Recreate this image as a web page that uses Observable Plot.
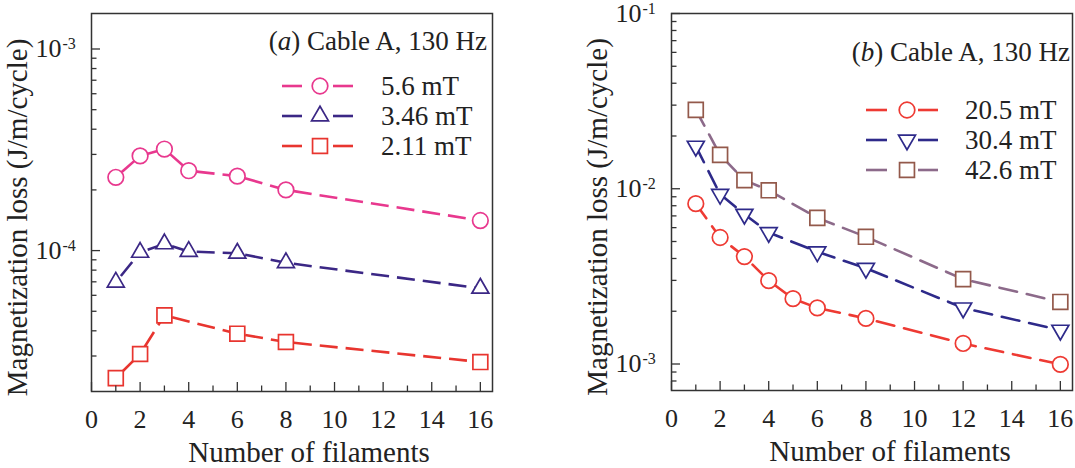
<!DOCTYPE html>
<html><head><meta charset="utf-8">
<script src="https://cdn.jsdelivr.net/npm/d3@7"></script>
<script src="https://cdn.jsdelivr.net/npm/@observablehq/plot@0.6"></script>
<style>
body{margin:0;background:#fff}
#wrap{display:flex;width:1075px;height:468px;overflow:hidden}
</style>
</head><body><div id="wrap"></div>
<script>
// ---------- data: panel (a) ----------
const filamentsA = [1, 2, 3, 4, 6, 8, 16];
const loss56 = [2.31e-4, 2.95e-4, 3.19e-4, 2.49e-4, 2.34e-4, 2.0e-4, 1.41e-4];
const loss346 = [6.97e-5, 9.8e-5, 1.08e-4, 9.9e-5, 9.7e-5, 8.7e-5, 6.5e-5];
const filaments211 = [1, 2, 3, 6, 8, 16];
const loss211 = [2.33e-5, 3.07e-5, 4.77e-5, 3.87e-5, 3.52e-5, 2.80e-5];
// ---------- data: panel (b) ----------
const filamentsB = [1, 2, 3, 4, 6, 8, 12, 16];
const loss426 = [2.82e-2, 1.56e-2, 1.12e-2, 9.8e-3, 6.82e-3, 5.32e-3, 3.05e-3, 2.26e-3];
const loss304 = [1.75e-2, 9.3e-3, 7.16e-3, 5.63e-3, 4.37e-3, 3.52e-3, 2.09e-3, 1.56e-3];
const filaments205 = [1, 2, 3, 4, 5, 6, 8, 12, 16];
const loss205 = [8.22e-3, 5.27e-3, 4.10e-3, 2.99e-3, 2.36e-3, 2.09e-3, 1.82e-3, 1.31e-3, 9.95e-4];
// ---------- tick labels ----------
const xTickLabels = [0, 2, 4, 6, 8, 10, 12, 14, 16];
const yMajorA = [1e-4, 1e-3];
const yMajorB = [1e-3, 1e-2, 1e-1];
const legendA = ["5.6 mT", "3.46 mT", "2.11 mT"];
const legendB = ["20.5 mT", "30.4 mT", "42.6 mT"];

// ---------- symbols ----------
const triUp = {draw(ctx, size) {
  const s = Math.sqrt(size / (Math.sqrt(3) / 4)), h = s * Math.sqrt(3) / 2;
  ctx.moveTo(0, -2 * h / 3); ctx.lineTo(s / 2, h / 3); ctx.lineTo(-s / 2, h / 3); ctx.closePath();
}};
const triDown = {draw(ctx, size) {
  const s = Math.sqrt(size / (Math.sqrt(3) / 4)), h = s * Math.sqrt(3) / 2;
  ctx.moveTo(-s / 2, -h / 3); ctx.lineTo(s / 2, -h / 3); ctx.lineTo(0, 2 * h / 3); ctx.closePath();
}};
const circ = d3.symbolCircle, sq = d3.symbolSquare;
const FONT = "Liberation Serif, Times New Roman, serif";

function minorTicks(lo, hi) {
  const out = [];
  for (let e = Math.floor(Math.log10(lo)); e <= Math.ceil(Math.log10(hi)); e++)
    for (let m = 2; m <= 9; m++) { const v = m * Math.pow(10, e); if (v > lo * 1.0001 && v < hi * 0.9999) out.push(v); }
  return out;
}

function panel(cfg) {
  const W = cfg.width, H = 468;
  const fw = W - cfg.ml - cfg.mr, fh = H - cfg.mt - cfg.mb;
  const marks = [];
  for (const s of cfg.series) {
    const pts = s.x.map((x, i) => ({x, y: s.y[i]}));
    if (cfg.segmented) {
      marks.push(Plot.link(d3.pairs(pts), {
        x1: d => d[0].x, y1: d => d[0].y, x2: d => d[1].x, y2: d => d[1].y,
        stroke: s.color, strokeWidth: 2.6, strokeDasharray: "18,8", strokeDashoffset: 18
      }));
    } else {
      marks.push(Plot.line(pts, {x: "x", y: "y", stroke: s.color, strokeWidth: 2.6, strokeDasharray: "18,10"}));
    }
  }
  for (const s of cfg.series) {
    const pts = s.x.map((x, i) => ({x, y: s.y[i]}));
    marks.push(Plot.dot(pts, {x: "x", y: "y", symbol: s.symbol, r: s.r, stroke: s.marker || s.color, fill: "white", strokeWidth: 1.7}));
  }
  marks.push(
    Plot.frame({stroke: "#333", strokeWidth: 1.5}),
    Plot.tickX(xTickLabels, {x: d => d, insetTop: fh - 9, stroke: "#333", strokeWidth: 1.3}),
    Plot.tickX(d3.range(1, 16, 2), {x: d => d, insetTop: fh - 5.5, stroke: "#333", strokeWidth: 1.3}),
    Plot.tickY(cfg.yMajor.filter(v => v >= cfg.yDomain[0] && v <= cfg.yDomain[1]), {y: d => d, insetRight: fw - 9, stroke: "#333", strokeWidth: 1.3}),
    Plot.tickY(minorTicks(cfg.yDomain[0], cfg.yDomain[1]), {y: d => d, insetRight: fw - 5.5, stroke: "#333", strokeWidth: 1.3}),
    Plot.text(xTickLabels, {x: d => d, frameAnchor: "bottom", dy: 28, text: d => String(d), fontSize: 26, textAnchor: "middle", lineAnchor: "middle", fill: "#222"}),
    Plot.text(cfg.yMajor, {y: d => d, frameAnchor: "left", dx: -30, text: () => "10", textAnchor: "end", fontSize: 26, lineAnchor: "middle", fill: "#222"}),
    Plot.text(cfg.yMajor, {y: d => d, frameAnchor: "left", dx: -29, dy: -5, text: d => String(Math.round(Math.log10(d))), textAnchor: "start", fontSize: 16, lineAnchor: "middle", fill: "#222"}),
    Plot.text([0], {frameAnchor: "bottom", dx: cfg.titleDx, dy: 61, text: () => "Number of filaments", fontSize: 29, textAnchor: "middle", lineAnchor: "middle", fill: "#222"}),
    Plot.text([0], {frameAnchor: "left", dx: cfg.yTitleDx, dy: 15, rotate: -90, text: () => "Magnetization loss (J/m/cycle)", fontSize: 29, textAnchor: "middle", lineAnchor: "middle", fill: "#222"})
  );
  const svg = Plot.plot({
    width: W, height: H,
    marginLeft: cfg.ml, marginRight: cfg.mr, marginTop: cfg.mt, marginBottom: cfg.mb,
    style: {fontFamily: FONT, background: "white", overflow: "visible", color: "#222"},
    x: {domain: [0, 16.5], axis: null, label: null},
    y: {type: "log", domain: cfg.yDomain, axis: null, label: null},
    marks
  });
  const sel = d3.select(svg);
  const an = sel.append("text").attr("x", cfg.annot.x).attr("y", cfg.annot.y).attr("dy", "0.32em")
    .attr("text-anchor", "end").attr("font-size", 27).attr("font-family", FONT).attr("fill", "#222");
  an.append("tspan").text("(");
  an.append("tspan").attr("font-style", "italic").text(cfg.annot.letter);
  an.append("tspan").text(") Cable A, 130 Hz");
  const L = cfg.legend;
  cfg.series.forEach((s, i) => {
    const y = L.y0 + i * L.dy;
    const g = sel.append("g");
    g.append("line").attr("x1", L.l1).attr("x2", L.l2).attr("y1", y).attr("y2", y).attr("stroke", s.color).attr("stroke-width", 2.6);
    g.append("line").attr("x1", L.r1).attr("x2", L.r2).attr("y1", y).attr("y2", y).attr("stroke", s.color).attr("stroke-width", 2.6);
    g.append("path").attr("d", d3.symbol(s.symbol, Math.PI * s.r * s.r)()).attr("transform", `translate(${L.mx},${y})`)
      .attr("fill", "white").attr("stroke", s.marker || s.color).attr("stroke-width", 1.7);
    g.append("text").attr("x", L.tx).attr("y", y).attr("dy", "0.32em").attr("text-anchor", "start").attr("font-size", 27).attr("font-family", FONT).attr("fill", "#222").text(cfg.legendLabels[i]);
  });
  return svg;
}

const wrap = document.getElementById("wrap");
wrap.appendChild(panel({
  width: 537, ml: 91, mr: 45, mt: 13, mb: 77,
  yDomain: [2.0e-5, 1.5e-3], yMajor: yMajorA, segmented: true,
  titleDx: 17, yTitleDx: -74,
  series: [
    {x: filamentsA, y: loss56, color: "#e8388e", symbol: circ, r: 7.8},
    {x: filamentsA, y: loss346, color: "#3b2785", symbol: triUp, r: 6.3},
    {x: filaments211, y: loss211, color: "#e8352f", symbol: sq, r: 8.4}
  ],
  legendLabels: legendA,
  annot: {x: 487, y: 41, letter: "a"},
  legend: {y0: 86, dy: 30, l1: 282, l2: 302, r1: 333, r2: 353, mx: 320, tx: 381}
}));
wrap.appendChild(panel({
  width: 538, ml: 134, mr: 3, mt: 13, mb: 78,
  yDomain: [7.06e-4, 0.1], yMajor: yMajorB, segmented: false,
  titleDx: 18, yTitleDx: -74,
  series: [
    {x: filaments205, y: loss205, color: "#ee3a33", symbol: circ, r: 7.8},
    {x: filamentsB, y: loss304, color: "#2e2a8a", symbol: triDown, r: 6.3},
    {x: filamentsB, y: loss426, color: "#8c6a8a", marker: "#93594b", symbol: sq, r: 8.4}
  ],
  legendLabels: legendB,
  annot: {x: 533, y: 52, letter: "b"},
  legend: {y0: 110, dy: 30, l1: 329, l2: 350, r1: 381, r2: 401, mx: 370, tx: 428}
}));
</script>
</body></html>
